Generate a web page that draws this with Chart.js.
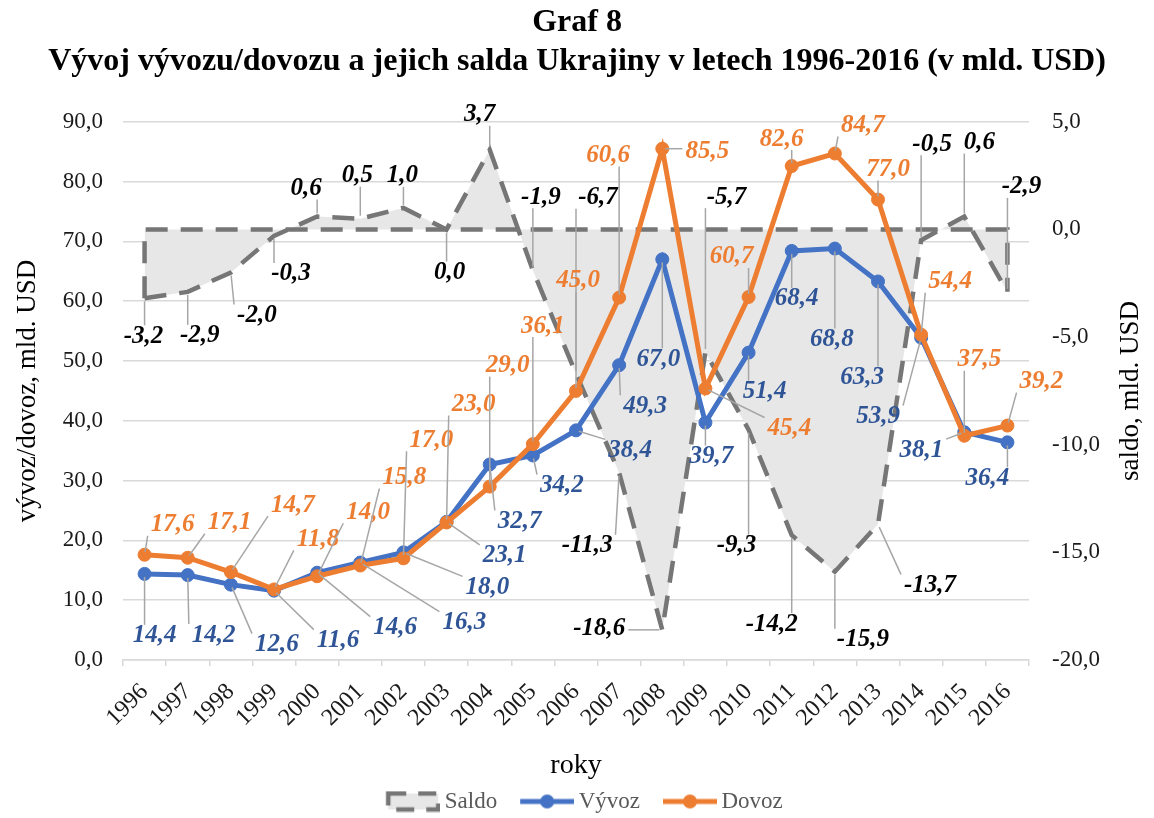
<!DOCTYPE html>
<html>
<head>
<meta charset="utf-8">
<script src="https://cdn.jsdelivr.net/npm/chart.js@4.4.1/dist/chart.umd.min.js"></script>
<style>
  html, body { margin: 0; padding: 0; background: #fff; }
  #wrap { width: 1154px; height: 818px; }
</style>
</head>
<body>
<div id="wrap"><canvas id="chart" width="1154" height="818"></canvas></div>
<script>
// --- data ---
const years = ['1996','1997','1998','1999','2000','2001','2002','2003','2004','2005','2006',
               '2007','2008','2009','2010','2011','2012','2013','2014','2015','2016'];
const vyvoz = [14.4, 14.2, 12.6, 11.6, 14.6, 16.3, 18.0, 23.1, 32.7, 34.2, 38.4,
               49.3, 67.0, 39.7, 51.4, 68.4, 68.8, 63.3, 53.9, 38.1, 36.4];
const dovoz = [17.6, 17.1, 14.7, 11.8, 14.0, 15.8, 17.0, 23.0, 29.0, 36.1, 45.0,
               60.6, 85.5, 45.4, 60.7, 82.6, 84.7, 77.0, 54.4, 37.5, 39.2];
const saldo = [-3.2, -2.9, -2.0, -0.3, 0.6, 0.5, 1.0, 0.0, 3.7, -1.9, -6.7,
               -11.3, -18.6, -5.7, -9.3, -14.2, -15.9, -13.7, -0.5, 0.6, -2.9];
const leftTicks = [0, 10, 20, 30, 40, 50, 60, 70, 80, 90];
const rightTicks = [-20, -15, -10, -5, 0, 5];

// label offsets (px from the point), like the moved labels in the original
const saldoLabelPos = [[-1,38],[12,44],[26,43],[17,38],[-11,-28],[-3,-43],[-1,-32],[3,43],[-10,-35],[8,-73],[22,-176],
                       [-32,73],[-63,-1],[21,-155],[-12,116],[-20,89],[28,68],[52,61],[11,-96],[15,-74],[14,-105]];
const vyvozLabelPos = [[10,62],[26,60],[46,60],[64,50],[78,55],[104,60],[84,35],[58,34],[30,57],[29,30],[54,20],
                       [26,41],[-4,100],[6,34],[16,39],[5,48],[-3,91],[-16,96],[-43,79],[-43,18],[-20,36]];
const dovozLabelPos = [[28,-30],[42,-35],[62,-67],[44,-50],[51,-64],[44,-88],[28,-118],[27,-118],[18,-121],[10,-118],[2,-110],
                       [-11,-142],[45,3],[84,40],[-17,-40],[-10,-27],[28,-28],[10,-30],[29,-53],[15,-76],[34,-44]];

const SERIF = '"Liberation Serif", "Times New Roman", serif';
const fmt = v => Number(v).toFixed(1).replace('.', ',');

const labelSetup = [
  { pos: saldoLabelPos, font: 'italic bold 25px ' + SERIF, color: '#000000' },
  { pos: vyvozLabelPos, font: 'italic bold 25px ' + SERIF, color: '#2F5597' },
  { pos: dovozLabelPos, font: 'italic bold 25px ' + SERIF, color: '#ED7D31' }
];

// --- legend icons ---
function makeIcon(kind, color) {
  const c = document.createElement('canvas');
  c.width = 76; c.height = 22;
  const g = c.getContext('2d');
  const x0 = 76 - 54;
  if (kind === 'area') {
    g.fillStyle = '#E7E7E7';
    g.fillRect(x0 + 2, 3, 50, 16);
    g.strokeStyle = '#767676';
    g.lineWidth = 4.5;
    g.setLineDash([18, 12]);
    g.strokeRect(x0 + 2, 3, 50, 16);
  } else {
    g.strokeStyle = color;
    g.lineWidth = 5;
    g.beginPath(); g.moveTo(x0, 11); g.lineTo(76, 11); g.stroke();
    g.fillStyle = color;
    g.beginPath(); g.arc(x0 + 27, 11, 7, 0, Math.PI * 2); g.fill();
  }
  return c;
}
const legendIcons = [makeIcon('area'), makeIcon('line', '#4472C4'), makeIcon('line', '#ED7D31')];

// baseline + side edges of the saldo area, drawn right after the area itself
const areaEdges = {
  id: 'areaEdges',
  afterDatasetDraw(chart, args) {
    if (args.index !== 0) return;
    const ctx = chart.ctx;
    const xs = chart.scales.x, ys = chart.scales.y2;
    const last = saldo.length - 1;
    const yZero = ys.getPixelForValue(0);
    ctx.save();
    ctx.strokeStyle = '#767676';
    ctx.lineWidth = 4.5;
    ctx.setLineDash([22, 13]);
    ctx.beginPath();
    ctx.moveTo(xs.getPixelForValue(0), ys.getPixelForValue(saldo[0]));
    ctx.lineTo(xs.getPixelForValue(0), yZero);
    ctx.lineTo(xs.getPixelForValue(last), yZero);
    ctx.lineTo(xs.getPixelForValue(last), ys.getPixelForValue(saldo[last]));
    ctx.stroke();
    ctx.restore();
  }
};

// data labels with leader lines
const pointLabels = {
  id: 'pointLabels',
  afterDatasetsDraw(chart) {
    const ctx = chart.ctx;
    chart.data.datasets.forEach((ds, di) => {
      const meta = chart.getDatasetMeta(di);
      const setup = labelSetup[di];
      ctx.save();
      ctx.font = setup.font;
      ctx.textAlign = 'center';
      ctx.textBaseline = 'middle';
      meta.data.forEach((pt, i) => {
        const text = fmt(ds.data[i]);
        const cx = pt.x + setup.pos[i][0];
        const cy = pt.y + setup.pos[i][1];
        const w = ctx.measureText(text).width;
        const h = 18;
        const bx = Math.max(cx - w / 2 - 3, Math.min(pt.x, cx + w / 2 + 3));
        const by = Math.max(cy - h / 2 - 2, Math.min(pt.y, cy + h / 2 + 2));
        const d = Math.hypot(bx - pt.x, by - pt.y);
        if (d > 14) {
          const ux = (bx - pt.x) / d, uy = (by - pt.y) / d;
          ctx.strokeStyle = '#A6A6A6';
          ctx.lineWidth = 1.5;
          ctx.beginPath();
          ctx.moveTo(pt.x + ux * 3, pt.y + uy * 3);
          ctx.lineTo(bx, by);
          ctx.stroke();
        }
        ctx.fillStyle = setup.color;
        ctx.fillText(text, cx, cy);
      });
      ctx.restore();
    });
  },
  afterDraw(chart) {
    // right axis title reads bottom-to-top like the left one
    const ctx = chart.ctx;
    const area = chart.chartArea;
    ctx.save();
    ctx.translate(1131, (area.top + area.bottom) / 2);
    ctx.rotate(-Math.PI / 2);
    ctx.font = '27px ' + SERIF;
    ctx.fillStyle = '#000';
    ctx.textAlign = 'center';
    ctx.textBaseline = 'middle';
    ctx.fillText('saldo, mld. USD', 0, 0);
    ctx.restore();
  }
};

new Chart(document.getElementById('chart'), {
  type: 'line',
  data: {
    labels: years,
    datasets: [
      {
        label: 'Saldo',
        data: saldo,
        yAxisID: 'y2',
        order: 3,
        borderColor: '#767676',
        borderWidth: 4.5,
        borderDash: [22, 13],
        backgroundColor: '#E7E7E7',
        fill: 'origin',
        pointRadius: 0,
        tension: 0
      },
      {
        label: 'Vývoz',
        data: vyvoz,
        yAxisID: 'y',
        order: 2,
        borderColor: '#4472C4',
        backgroundColor: '#4472C4',
        borderWidth: 5,
        pointRadius: 6.5,
        pointBorderWidth: 1,
        pointBackgroundColor: '#4472C4',
        pointBorderColor: '#4472C4',
        fill: false,
        tension: 0
      },
      {
        label: 'Dovoz',
        data: dovoz,
        yAxisID: 'y',
        order: 1,
        borderColor: '#ED7D31',
        backgroundColor: '#ED7D31',
        borderWidth: 5,
        pointRadius: 6.5,
        pointBorderWidth: 1,
        pointBackgroundColor: '#ED7D31',
        pointBorderColor: '#ED7D31',
        fill: false,
        tension: 0
      }
    ]
  },
  options: {
    responsive: false,
    devicePixelRatio: 1,
    animation: false,
    layout: { padding: { top: 0, left: 0, right: 0, bottom: -5 } },
    plugins: {
      title: {
        display: true,
        text: ['Graf 8', 'Vývoj vývozu/dovozu a jejich salda Ukrajiny v letech 1996-2016 (v mld. USD)'],
        font: { family: SERIF, size: 32, weight: 'bold', lineHeight: 1.2 },
        color: '#000',
        padding: { top: 4, bottom: 41 }
      },
      legend: {
        position: 'bottom',
        labels: {
          usePointStyle: true,
          pointStyleWidth: 62,
          padding: 8,
          color: '#595959',
          font: { family: SERIF, size: 23 },
          generateLabels(chart) {
            return chart.data.datasets.map((ds, i) => ({
              text: ds.label,
              pointStyle: legendIcons[i],
              datasetIndex: i,
              hidden: !chart.isDatasetVisible(i),
              fontColor: '#595959',
              lineWidth: 0,
              strokeStyle: 'transparent',
              fillStyle: 'transparent'
            }));
          }
        }
      },
      tooltip: { enabled: false }
    },
    scales: {
      x: {
        offset: true,
        grid: { offset: true, drawOnChartArea: false, drawTicks: true, tickLength: 6, color: '#D9D9D9', lineWidth: 1.5 },
        border: { display: true, color: '#D9D9D9', width: 1.5 },
        ticks: { minRotation: 45, maxRotation: 45, autoSkip: false, padding: 12,
                 font: { family: SERIF, size: 24 }, color: '#1a1a1a' },
        title: { display: true, text: 'roky', font: { family: SERIF, size: 28 }, color: '#000',
                 padding: { top: 0, bottom: 0 } },
        afterFit(s) { s.height = 122; }
      },
      y: {
        position: 'left',
        min: leftTicks[0],
        max: leftTicks[leftTicks.length - 1],
        afterBuildTicks(s) { s.ticks = leftTicks.map(v => ({ value: v })); },
        ticks: { callback: v => fmt(v), padding: 20, font: { family: SERIF, size: 23 }, color: '#1a1a1a' },
        grid: { color: '#D9D9D9', lineWidth: 1.5, drawTicks: false },
        border: { display: false },
        title: { display: true, text: 'vývoz/dovoz, mld. USD', font: { family: SERIF, size: 27 }, color: '#000',
                 padding: { top: 12, bottom: 0 } },
        afterFit(s) { s.width = 123; }
      },
      y2: {
        position: 'right',
        min: rightTicks[0],
        max: rightTicks[rightTicks.length - 1],
        afterBuildTicks(s) { s.ticks = rightTicks.map(v => ({ value: v })); },
        ticks: { callback: v => fmt(v), padding: 23, font: { family: SERIF, size: 23 }, color: '#1a1a1a' },
        grid: { drawOnChartArea: false, drawTicks: false },
        border: { display: false },
        afterFit(s) { s.width = 125; }
      }
    }
  },
  plugins: [areaEdges, pointLabels]
});
</script>
</body>
</html>
